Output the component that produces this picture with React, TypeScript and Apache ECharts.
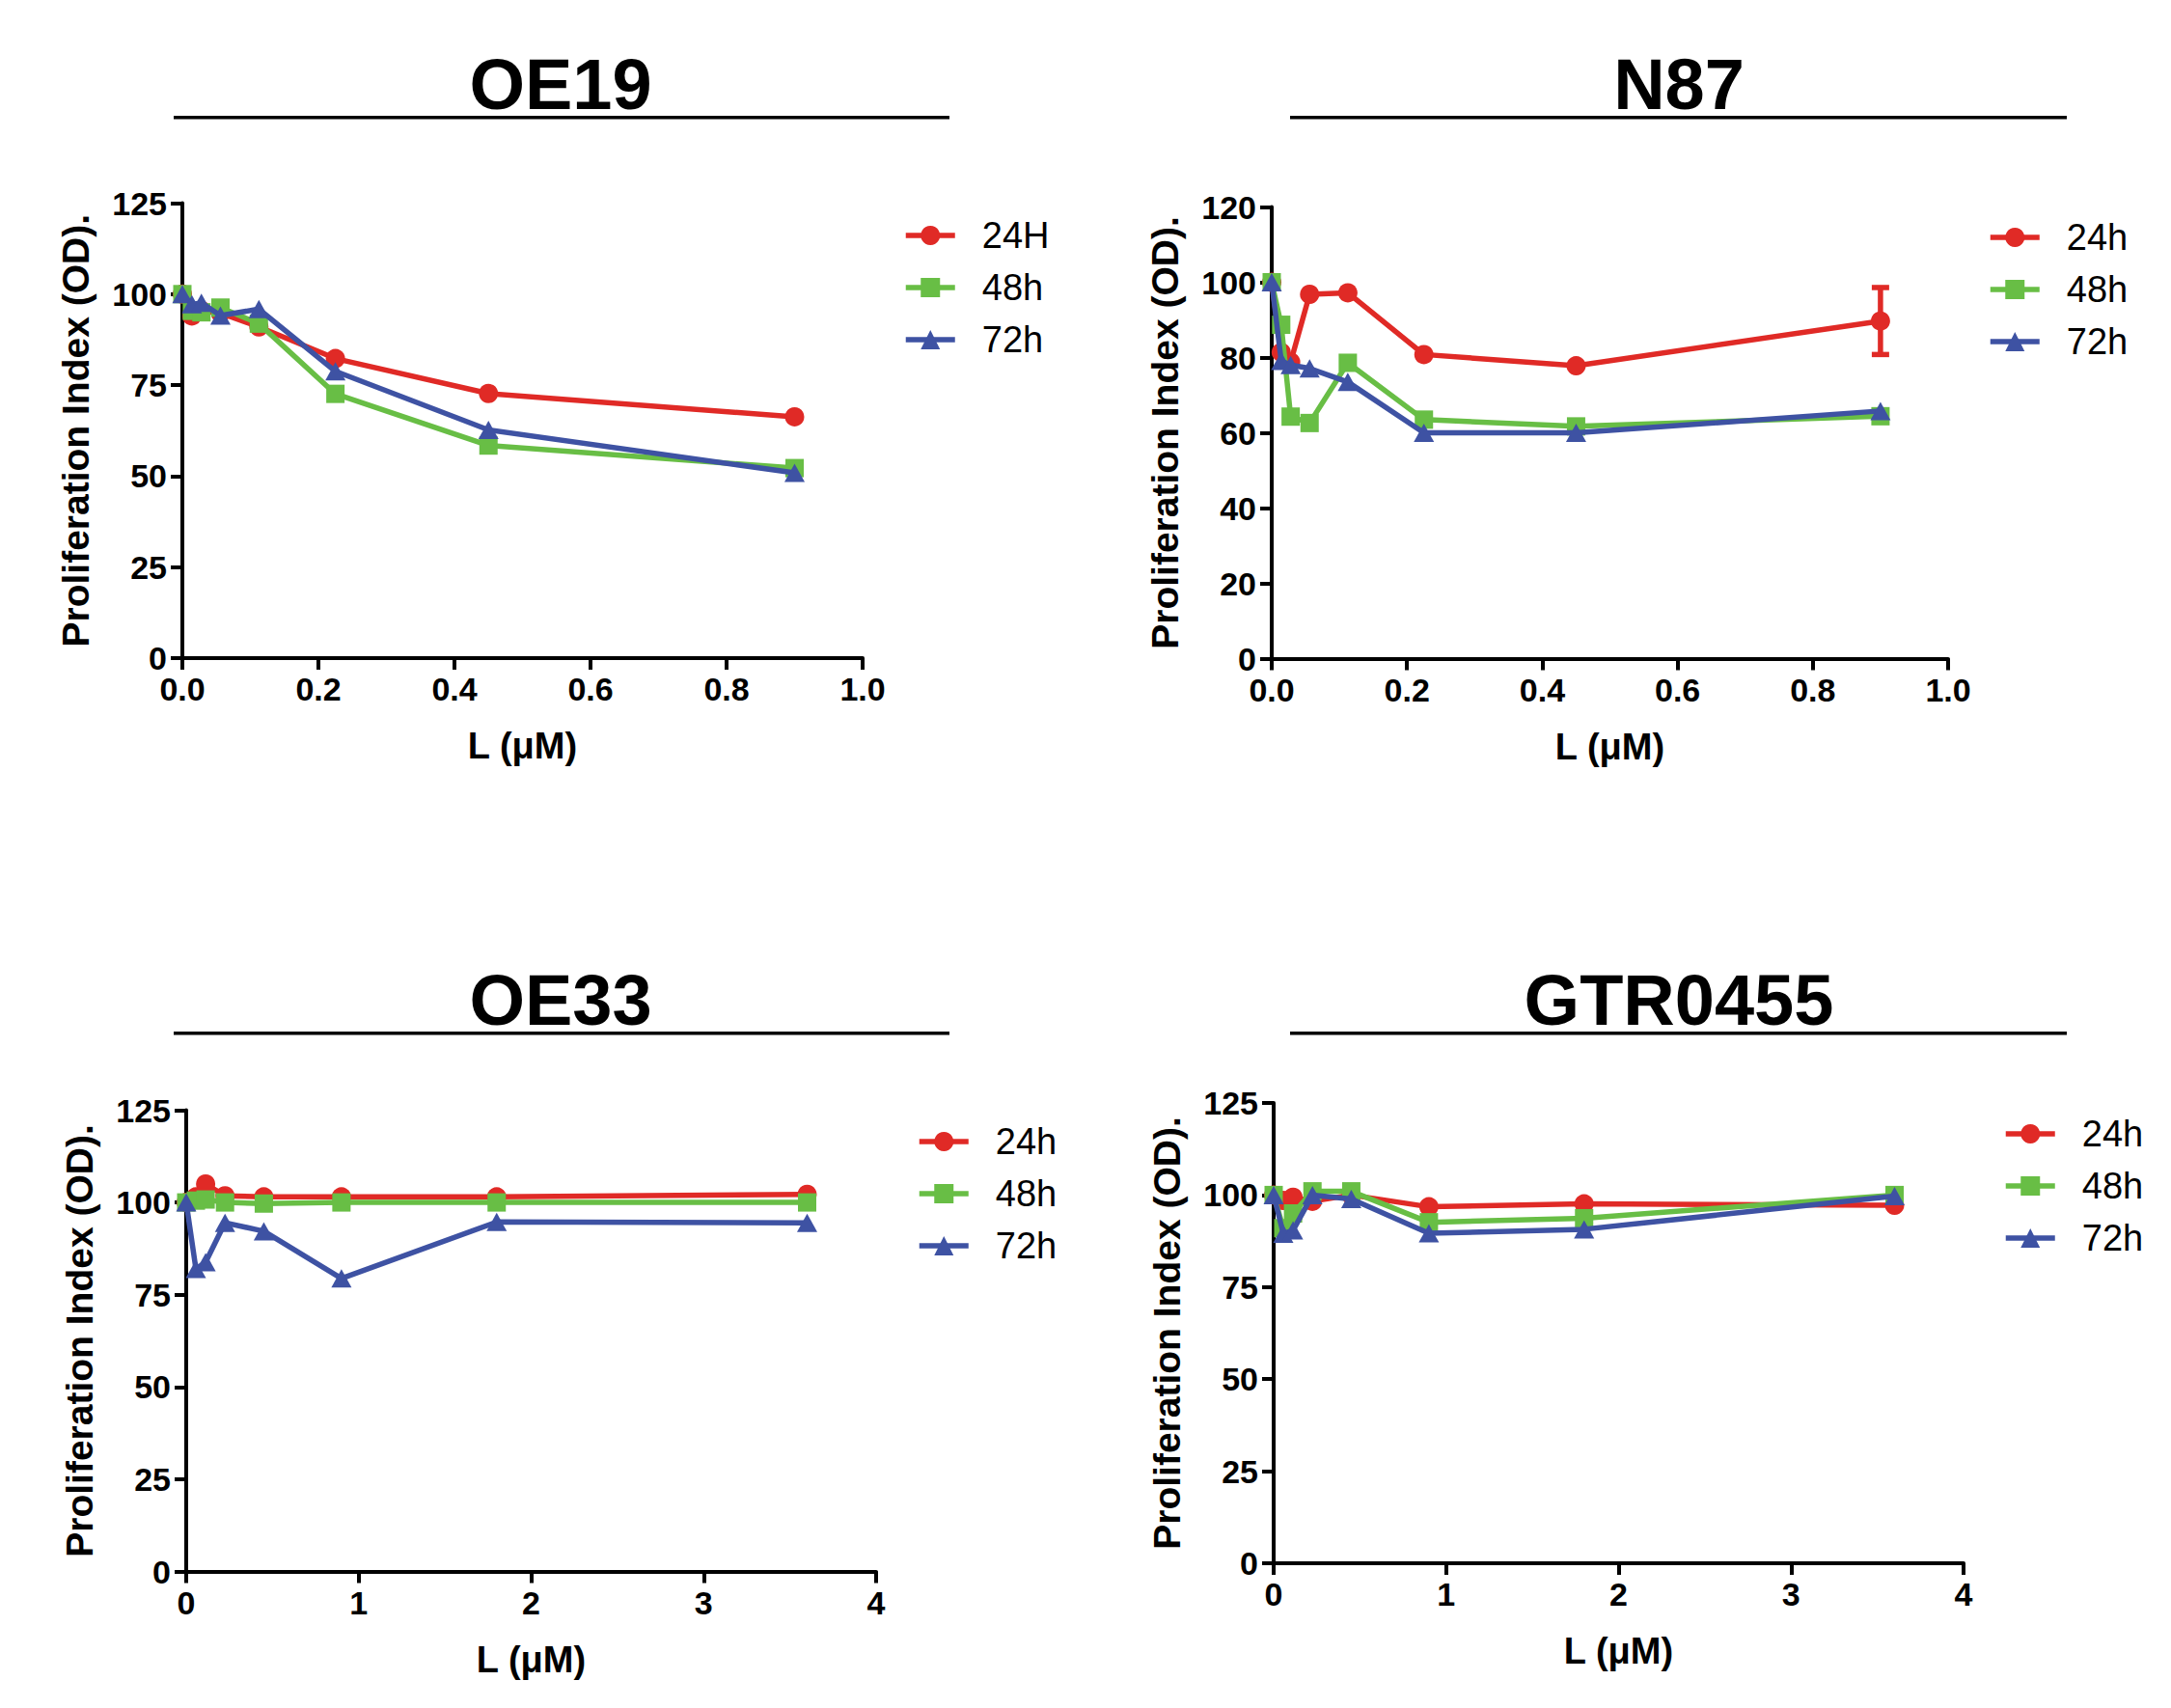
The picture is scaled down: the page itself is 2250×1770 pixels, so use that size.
import React, { useEffect, useRef } from "react";
import * as echarts from "echarts";

const FONT = "Liberation Sans, Arial, Helvetica, sans-serif";
const RED = "#E02A26";
const GREEN = "#68BE45";
const BLUE = "#3E52A3";

// Titles
const PANEL_TITLES = ["OE19", "N87", "OE33", "GTR0455"];

// OE19
const OE19_X = [0, 0.014, 0.028, 0.056, 0.1125, 0.225, 0.45, 0.9];
const OE19_24 = [100, 94, 95.5, 94.8, 91, 82.3, 72.7, 66.3];
const OE19_48 = [100, 95.4, 95, 96.3, 91.9, 72.6, 58.4, 52.2];
const OE19_72 = [100, 97.2, 97.6, 94.1, 95.9, 78.8, 62.7, 50.9];

// N87
const N87_X = [0, 0.014, 0.028, 0.056, 0.1125, 0.225, 0.45, 0.9];
const N87_24 = [100, 81.4, 78.8, 96.8, 97.2, 80.8, 77.8, 89.7];
const N87_48 = [100, 88.7, 64.3, 62.6, 78.6, 63.5, 61.7, 64.4];
const N87_72 = [100, 79.1, 78, 77.1, 73.5, 60, 60, 65.8];
const N87_ERR_X = [0.9];
const N87_ERR_LOW = [80.8];
const N87_ERR_HIGH = [98.6];

// OE33
const OE33_X = [0, 0.056, 0.1125, 0.225, 0.45, 0.9, 1.8, 3.6];
const OE33_24 = [100, 101.5, 105, 101.8, 101.5, 101.5, 101.5, 102.2];
const OE33_48 = [100, 100.5, 100.8, 100, 99.7, 100, 100, 100];
const OE33_72 = [100, 82, 83.8, 94.5, 92.2, 79.4, 94.7, 94.5];

// GTR0455
const GTR_X = [0, 0.056, 0.1125, 0.225, 0.45, 0.9, 1.8, 3.6];
const GTR_24 = [100, 98.5, 99.4, 98.3, 100, 96.8, 97.6, 97.2];
const GTR_48 = [100, 91, 95, 101, 101, 92.6, 93.7, 100];
const GTR_72 = [100, 89.5, 90.4, 100, 98.9, 89.6, 90.7, 99.7];

const LEGEND_P1 = ["24H", "48h", "72h"];
const LEGEND_OTHER = ["24h", "48h", "72h"];

const X_NAME = "L (μM)";
const Y_NAME = "Proliferation Index (OD).";

export default function App() {
  const ref = useRef<HTMLDivElement>(null);

  useEffect(() => {
    if (!ref.current) return;
    const chart = echarts.init(ref.current, null, { renderer: "svg" });

    const grids = [
      { left: 189, top: 210.5, width: 705, height: 471.5 },
      { left: 1318, top: 214.5, width: 701, height: 468 },
      { left: 193, top: 1150.5, width: 715, height: 478 },
      { left: 1320, top: 1143, width: 715, height: 477 },
    ];

    const axisLine = { show: true, lineStyle: { color: "#000", width: 4 } };
    const axisTick = { show: true, inside: false, length: 12, lineStyle: { color: "#000", width: 4 } };

    const xMax = [1, 1, 4, 4];
    const xInt = [0.2, 0.2, 1, 1];
    const yMax = [125, 120, 125, 125];
    const yInt = [25, 20, 25, 25];

    const xAxes = grids.map((_, i) => ({
      type: "value",
      gridIndex: i,
      min: 0,
      max: xMax[i],
      interval: xInt[i],
      axisLine,
      axisTick,
      splitLine: { show: false },
      axisLabel: {
        margin: 15,
        color: "#000",
        fontSize: 34,
        fontWeight: "bold",
        fontFamily: FONT,
        formatter: (v: number) => (i < 2 ? v.toFixed(1) : String(v)),
      },
      name: X_NAME,
      nameLocation: "middle",
      nameGap: 72,
      nameTextStyle: { color: "#000", fontSize: 38, fontWeight: "bold", fontFamily: FONT },
    }));

    const yAxes = grids.map((_, i) => ({
      type: "value",
      gridIndex: i,
      min: 0,
      max: yMax[i],
      interval: yInt[i],
      axisLine,
      axisTick,
      splitLine: { show: false },
      axisLabel: {
        margin: 16,
        color: "#000",
        fontSize: 34,
        fontWeight: "bold",
        fontFamily: FONT,
      },
      name: Y_NAME,
      nameLocation: "middle",
      nameGap: 91,
      nameTextStyle: { color: "#000", fontSize: 39, fontWeight: "bold", fontFamily: FONT },
    }));

    const LW = 5.5;
    const mk = (name: string, xs: number[], ys: number[], idx: number, color: string, symbol: string, size: any, z: number) => ({
      type: "line",
      name,
      xAxisIndex: idx,
      yAxisIndex: idx,
      data: xs.map((x, k) => [x, ys[k]]),
      symbol,
      symbolSize: size,
      showSymbol: true,
      color,
      itemStyle: { color },
      lineStyle: { color, width: LW },
      z,
      silent: true,
    });

    const CIRC = 20;
    const SQ = 19;
    const TRI = [21, 19];

    const series: any[] = [
      mk("24H", OE19_X, OE19_24, 0, RED, "circle", CIRC, 2),
      mk("48h", OE19_X, OE19_48, 0, GREEN, "rect", SQ, 3),
      mk("72h", OE19_X, OE19_72, 0, BLUE, "triangle", TRI, 4),
      mk("24h", N87_X, N87_24, 1, RED, "circle", CIRC, 2),
      mk("48h", N87_X, N87_48, 1, GREEN, "rect", SQ, 3),
      mk("72h", N87_X, N87_72, 1, BLUE, "triangle", TRI, 4),
      mk("24h", OE33_X, OE33_24, 2, RED, "circle", CIRC, 2),
      mk("48h", OE33_X, OE33_48, 2, GREEN, "rect", SQ, 3),
      mk("72h", OE33_X, OE33_72, 2, BLUE, "triangle", TRI, 4),
      mk("24h", GTR_X, GTR_24, 3, RED, "circle", CIRC, 2),
      mk("48h", GTR_X, GTR_48, 3, GREEN, "rect", SQ, 3),
      mk("72h", GTR_X, GTR_72, 3, BLUE, "triangle", TRI, 4),
      {
        type: "custom",
        name: "err",
        xAxisIndex: 1,
        yAxisIndex: 1,
        silent: true,
        z: 2,
        data: N87_ERR_X.map((x, k) => [x, N87_ERR_LOW[k], N87_ERR_HIGH[k]]),
        encode: { x: 0, y: [1, 2] },
        renderItem: (_p: any, api: any) => {
          const x = api.value(0);
          const lo = api.coord([x, api.value(1)]);
          const hi = api.coord([x, api.value(2)]);
          const w = 9;
          const st = { stroke: RED, lineWidth: LW };
          return {
            type: "group",
            children: [
              { type: "line", shape: { x1: lo[0], y1: lo[1], x2: hi[0], y2: hi[1] }, style: st },
              { type: "line", shape: { x1: lo[0] - w, y1: lo[1], x2: lo[0] + w, y2: lo[1] }, style: st },
              { type: "line", shape: { x1: hi[0] - w, y1: hi[1], x2: hi[0] + w, y2: hi[1] }, style: st },
            ],
          };
        },
      },
    ];

    const legendBase = {
      orient: "vertical",
      itemWidth: 51,
      itemHeight: 25,
      itemGap: 16,
      padding: 0,
      selectedMode: false,
      lineStyle: { width: LW },
      textStyle: { fontSize: 38, fontFamily: FONT, color: "#000", padding: [0, 0, 0, 23] },
    };
    const legends = [
      { ...legendBase, left: 936, top: 244 - 19, data: LEGEND_P1 },
      { ...legendBase, left: 2060, top: 246 - 19, data: LEGEND_OTHER },
      { ...legendBase, left: 950, top: 1183 - 19, data: LEGEND_OTHER },
      { ...legendBase, left: 2076, top: 1175 - 19, data: LEGEND_OTHER },
    ];

    const titleCenters = [
      [581, 113],
      [1740, 113],
      [581, 1062],
      [1740, 1062],
    ];
    const underlines = [
      [180, 984, 121.7],
      [1337, 2142, 121.7],
      [180, 984, 1070.7],
      [1337, 2142, 1070.7],
    ];

    const graphic: any[] = [];
    PANEL_TITLES.forEach((t, i) => {
      graphic.push({
        type: "text",
        x: titleCenters[i][0],
        y: titleCenters[i][1] - 0.3465 * 74,
        style: {
          text: t,
          fontSize: 74,
          fontWeight: "bold",
          fontFamily: FONT,
          fill: "#000",
          align: "center",
          verticalAlign: "middle",
        },
      });
      graphic.push({
        type: "line",
        shape: { x1: underlines[i][0], y1: underlines[i][2], x2: underlines[i][1], y2: underlines[i][2] },
        style: { stroke: "#000", lineWidth: 3.5 },
      });
    });

    chart.setOption({
      animation: false,
      backgroundColor: "#fff",
      grid: grids,
      xAxis: xAxes,
      yAxis: yAxes,
      legend: legends,
      series,
      graphic,
    });

    return () => chart.dispose();
  }, []);

  return (
    <div
      ref={ref}
      style={{ position: "absolute", left: 0, top: 0, width: 2250, height: 1770 }}
    />
  );
}
